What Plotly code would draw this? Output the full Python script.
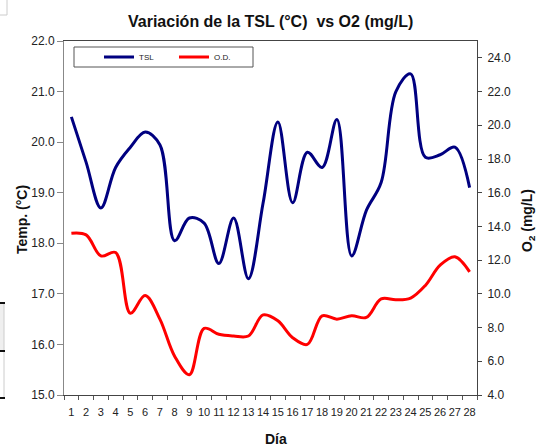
import plotly.graph_objects as go

# ---------------- data ----------------
days = list(range(1, 29))
day_labels = [str(d) for d in days]
tsl = [20.5, 19.6, 18.7, 19.5, 19.9, 20.2, 19.95, 18.05, 18.5, 18.4,
       17.6, 18.5, 17.3, 18.8, 20.4, 18.8, 19.8, 19.5, 20.45, 17.75,
       18.65, 19.2, 21.0, 21.35, 19.7, 19.75, 19.9, 19.1]
od = [13.6, 13.5, 12.25, 12.45, 8.85, 9.9, 8.5, 6.3, 5.2, 7.95,
      7.6, 7.5, 7.5, 8.75, 8.4, 7.4, 7.0, 8.7, 8.5, 8.7,
      8.6, 9.7, 9.65, 9.75, 10.5, 11.7, 12.2, 11.3]
temp_ticks = [15, 16, 17, 18, 19, 20, 21, 22]
o2_ticks = [4, 6, 8, 10, 12, 14, 16, 18, 20, 22, 24]
series_names = ["TSL", "O.D."]
title_text = "Variación de la TSL (°C)  vs O2 (mg/L)"

# ---------------- geometry helpers ----------------
W, H = 536, 446
L, R, T, B = 64, 59, 41, 51
PW, PH = W - L - R, H - T - B


def px(x):
    return (x - L) / PW


def py(y):
    return (H - B - y) / PH


FONT = "Liberation Sans, Arial, sans-serif"

fig = go.Figure()
fig.add_trace(go.Scatter(x=days, y=tsl, name=series_names[0], mode="lines",
                         line=dict(color="#000080", width=3, shape="spline", smoothing=1),
                         xaxis="x", yaxis="y"))
fig.add_trace(go.Scatter(x=days, y=od, name=series_names[1], mode="lines",
                         line=dict(color="#FF0000", width=3, shape="spline", smoothing=1),
                         xaxis="x", yaxis="y2"))

fig.update_layout(
    width=W, height=H,
    margin=dict(l=L, r=R, t=T, b=B, pad=0),
    paper_bgcolor="white", plot_bgcolor="white",
    font=dict(family=FONT, color="#222"),
    showlegend=True,
    legend=dict(orientation="h", x=px(99), xanchor="left", y=py(57), yanchor="middle",
                font=dict(size=8, family=FONT, color="#222"), bgcolor="rgba(0,0,0,0)",
                borderwidth=0, entrywidth=30, entrywidthmode="pixels", itemwidth=30),
    xaxis=dict(range=[0.5, 28.5], tickmode="array", tickvals=days, ticktext=day_labels,
               ticks="", showline=True, linecolor="#444", linewidth=1, mirror=True,
               showgrid=False, zeroline=False, ticklabelstandoff=7, tickangle=0,
               tickfont=dict(size=11, color="#222"),
               minor=dict(tickmode="linear", tick0=0.5, dtick=1, ticks="outside",
                          ticklen=4, tickcolor="#555", showgrid=False)),
    xaxis2=dict(overlaying="x", anchor="y", side="bottom", range=[0.5, 28.5],
                tickmode="linear", tick0=0.5, dtick=1, ticks="inside", ticklen=4,
                tickcolor="#555", showticklabels=False, showline=False,
                showgrid=False, zeroline=False),
    yaxis=dict(range=[15, 22], tickmode="array", tickvals=temp_ticks, tickformat=".1f",
               ticks="outside", ticklen=6, tickcolor="#888", showline=True,
               linecolor="#888", showgrid=False, zeroline=False,
               tickfont=dict(size=12, color="#222")),
    yaxis2=dict(overlaying="y", side="right", anchor="x", range=[4, 25],
                tickmode="array", tickvals=o2_ticks, tickformat=".1f",
                ticks="outside", ticklen=4, tickcolor="#444", showline=True,
                linecolor="#444", showgrid=False, zeroline=False, ticklabelstandoff=3,
                tickfont=dict(size=12, color="#222")),
    yaxis3=dict(overlaying="y", side="right", anchor="x", range=[4, 25],
                tickmode="array", tickvals=o2_ticks, ticks="inside", ticklen=4,
                tickcolor="#444", showticklabels=False, showline=False,
                showgrid=False, zeroline=False),
)

# legend frame
fig.add_shape(type="rect", xref="paper", yref="paper",
              x0=px(74), x1=px(253), y0=py(47), y1=py(67),
              line=dict(color="#555", width=1), fillcolor="rgba(0,0,0,0)", layer="above")

# left-edge artifacts from the original screenshot
fig.add_shape(type="rect", xref="paper", yref="paper", x0=px(-2), x1=px(7), y0=py(15), y1=py(-2),
              line=dict(color="#ccc", width=1))
fig.add_shape(type="rect", xref="paper", yref="paper", x0=px(0), x1=px(4), y0=py(351), y1=py(303),
              line=dict(width=0), fillcolor="#efefef")
fig.add_shape(type="line", xref="paper", yref="paper", x0=px(4), x1=px(4), y0=py(398), y1=py(303),
              line=dict(color="#ccc", width=1))
for yy in (303, 351, 398):
    fig.add_shape(type="line", xref="paper", yref="paper", x0=px(0), x1=px(5), y0=py(yy), y1=py(yy),
                  line=dict(color="#111", width=2))

# titles
fig.add_annotation(text="<b>" + title_text + "</b>", xref="paper", yref="paper",
                   x=px(270), y=py(21), showarrow=False, xanchor="center", yanchor="middle",
                   font=dict(size=16, family=FONT, color="#111"))
fig.add_annotation(text="<b>Temp. (°C)</b>", xref="paper", yref="paper",
                   x=px(22), y=py(220), showarrow=False, textangle=-90,
                   xanchor="center", yanchor="middle", font=dict(size=14, family=FONT, color="#111"))
fig.add_annotation(text="<b>O<sub>2</sub> (mg/L)</b>", xref="paper", yref="paper",
                   x=px(528), y=py(221), showarrow=False, textangle=-90,
                   xanchor="center", yanchor="middle", font=dict(size=14, family=FONT, color="#111"))
fig.add_annotation(text="<b>Día</b>", xref="paper", yref="paper",
                   x=px(276), y=py(439), showarrow=False,
                   xanchor="center", yanchor="middle", font=dict(size=14, family=FONT, color="#111"))

fig.write_html("out.html", config={"displayModeBar": False},
               post_script="document.body.style.margin='0';document.body.style.overflow='hidden';")
